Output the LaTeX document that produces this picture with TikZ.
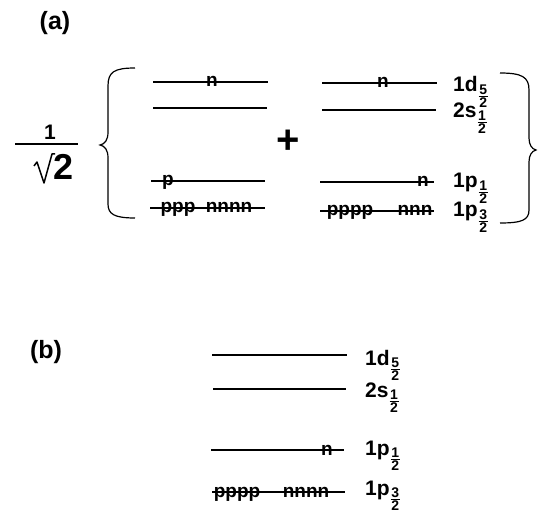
\documentclass[tikz,border=0pt]{standalone}
\usepackage{fontspec}
\setmainfont{Liberation Sans}
\newcommand\sfr[2]{\kern1pt\raisebox{-8pt}{\fontsize{14}{14}\selectfont\bfseries$\vcenter{\hbox to 9pt{\hss #1\hss}\kern1pt\hrule height 1pt\kern1pt\hbox to 9pt{\hss #2\hss}}$}}
\begin{document}
\begin{tikzpicture}[x=1pt,y=-1pt,
  lvl/.style={line width=1.1pt},
  lab/.style={anchor=base west,inner sep=0,font=\fontsize{21}{21}\selectfont\bfseries},
  occ/.style={anchor=base,inner sep=0,font=\fontsize{19}{19}\selectfont\bfseries},
  part/.style={inner sep=0,font=\fontsize{25}{25}\selectfont\bfseries},
  brc/.style={line width=1.2pt}]
\useasboundingbox (0,0) rectangle (539,516);
% ---------- (a)
\node[part] (pa) at (55,23) {(a)};
% prefactor 1/sqrt2
\node[inner sep=0,anchor=base,font=\fontsize{21}{21}\selectfont\bfseries] (one) at (50,140) {1};
\draw[line width=1.2pt] (15,144) -- (78,144);
\draw[line width=1.5pt,line join=round] (34,166) -- (37,162) -- (44,183) -- (52,154) -- (55,154);
\node[inner sep=0,anchor=base west,font=\fontsize{36}{36}\selectfont\bfseries] (two) at (53,180) {2};
% left brace
\draw[brc] (135,68) .. controls (114,68) and (108,72) .. (108,86) -- (108,132)
  .. controls (108,140) and (105,144) .. (100,145) .. controls (105,146) and (108,150) .. (108,158)
  -- (108,204) .. controls (108,214) and (114,218) .. (135,218);
% left configuration
\draw[lvl] (153,82) -- (268,82);
\draw[lvl] (153,108) -- (267,108);
\draw[lvl] (151,181) -- (265,181);
\draw[lvl] (150,208) -- (265,208);
\node[occ] (la1) at (212,87) {n};
\node[occ] (la3) at (168,186) {p};
\node[occ] (la4p) at (178,213) {ppp};
\node[occ] (la4n) at (229,213) {nnnn};
% plus
\node[inner sep=0,font=\fontsize{40}{40}\selectfont\bfseries] (plus) at (288,142) {+};
% right configuration
\draw[lvl] (322,83) -- (437,83);
\draw[lvl] (322,110) -- (436,110);
\draw[lvl] (320,182) -- (434,182);
\draw[lvl] (320,211) -- (434,211);
\node[occ] (ra1) at (383,88) {n};
\node[occ] (ra3) at (423,187) {n};
\node[occ] (ra4p) at (350,216) {pppp};
\node[occ] (ra4n) at (415,216) {nnn};
% labels (a)
\node[lab] (a1d) at (453,92) {1d\sfr{5}{2}};
\node[lab] (a2s) at (453,118) {2s\sfr{1}{2}};
\node[lab] (a1p) at (453,188) {1p\sfr{1}{2}};
\node[lab] (a1q) at (453,217) {1p\sfr{3}{2}};
% right brace
\draw[brc] (500,73) .. controls (522,73) and (529,77) .. (529,90) -- (529,138)
  .. controls (529,145) and (532,149) .. (536,150) .. controls (532,151) and (529,155) .. (529,162)
  -- (529,210) .. controls (529,220) and (522,223) .. (500,223);
% ---------- (b)
\node[part] (pb) at (46,352) {(b)};
\draw[lvl] (212,355) -- (347,355);
\draw[lvl] (213,389) -- (346,389);
\draw[lvl] (211,450) -- (344,450);
\draw[lvl] (212,492) -- (345,492);
\node[occ] (b3) at (327,455) {n};
\node[occ] (b4p) at (237,497) {pppp};
\node[occ] (b4n) at (306,497) {nnnn};
\node[lab] (b1d) at (365,365) {1d\sfr{5}{2}};
\node[lab] (b2s) at (365,397) {2s\sfr{1}{2}};
\node[lab] (b1p) at (365,455) {1p\sfr{1}{2}};
\node[lab] (b1q) at (365,495) {1p\sfr{3}{2}};
\end{tikzpicture}
\end{document}
